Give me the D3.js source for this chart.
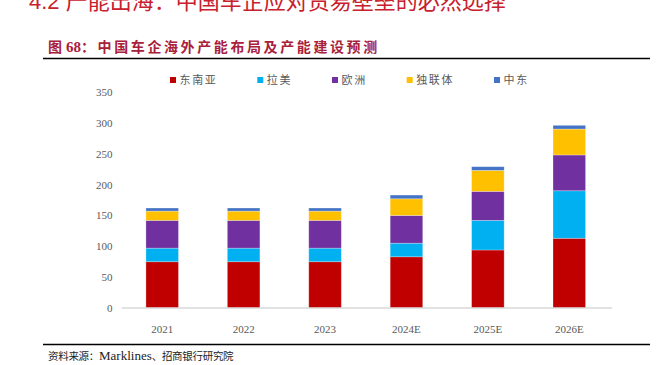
<!DOCTYPE html>
<html>
<head>
<meta charset="utf-8">
<script src="https://cdn.jsdelivr.net/npm/d3@7"></script>
<style>
  html, body { margin: 0; padding: 0; background: #fff; }
  svg { display: block; }
</style>
</head>
<body>
<div id="chart"></div>
<script>
// data
const years = ["2021", "2022", "2023", "2024E", "2025E", "2026E"];
const seAsia = [75, 75, 75, 83, 94, 113];
const latAm = [22, 22, 22, 22, 48, 77];
const europe = [45, 45, 45, 45, 47, 58];
const cis = [15, 15, 15, 27, 34, 42];
const midEast = [5, 5, 5, 6, 6, 6];
const seriesNames = ["东南亚", "拉美", "欧洲", "独联体", "中东"];
const seriesColors = ["#c00000", "#00b0f0", "#7030a0", "#ffc000", "#4472c4"];
const yTicks = [0, 50, 100, 150, 200, 250, 300, 350];

const width = 659;
const height = 365;
const plot = { left: 121.5, right: 610, top: 92, bottom: 308 };

const svg = d3.select("#chart").append("svg")
  .attr("width", width)
  .attr("height", height);

const serifCJK = "'Liberation Serif', 'Noto Sans CJK SC', serif";

// section heading, cut off at the top in the reference
svg.append("text")
  .attr("x", 29)
  .attr("y", 9)
  .attr("font-family", "'Liberation Sans', 'Noto Sans CJK SC', sans-serif")
  .attr("font-size", 22)
  .attr("fill", "#c8202c")
  .text("4.2 产能出海：中国车企应对贸易壁垒的必然选择");

// figure title + rule
const title = svg.append("text")
  .attr("x", 48)
  .attr("y", 52)
  .attr("font-family", serifCJK)
  .attr("font-size", 14)
  .attr("font-weight", "bold")
  .attr("fill", "#a8203a");
title.append("tspan").attr("letter-spacing", 4).text("图");
title.append("tspan").attr("font-size", 15).text("68");
title.append("tspan").attr("letter-spacing", 2.6).text("：中国车企海外产能布局及产能建设预测");

svg.append("line")
  .attr("x1", 43).attr("x2", 650)
  .attr("y1", 58.5).attr("y2", 58.5)
  .attr("stroke", "#000")
  .attr("stroke-width", 1.3);

// rows for the stack
const rows = years.map((year, i) => ({
  year,
  [seriesNames[0]]: seAsia[i],
  [seriesNames[1]]: latAm[i],
  [seriesNames[2]]: europe[i],
  [seriesNames[3]]: cis[i],
  [seriesNames[4]]: midEast[i],
}));

const stacked = d3.stack().keys(seriesNames)(rows);

const x = d3.scaleBand()
  .domain(years)
  .range([plot.left, plot.right])
  .paddingInner(0.6)
  .paddingOuter(0.3);

const y = d3.scaleLinear()
  .domain([0, 350])
  .range([plot.bottom, plot.top]);

const color = d3.scaleOrdinal().domain(seriesNames).range(seriesColors);

// y axis labels (no line, no ticks)
const yAxis = svg.append("g")
  .attr("transform", `translate(${plot.left - 3},0)`)
  .call(d3.axisLeft(y).tickValues(yTicks).tickSize(0).tickPadding(6));
yAxis.select(".domain").remove();
yAxis.selectAll("text")
  .attr("font-family", "'Liberation Serif', serif")
  .attr("font-size", 11)
  .attr("fill", "#595959");

// bars
svg.append("g")
  .selectAll("g")
  .data(stacked)
  .join("g")
  .attr("fill", (d) => color(d.key))
  .selectAll("rect")
  .data((d) => d)
  .join("rect")
  .attr("x", (d) => x(d.data.year))
  .attr("y", (d) => y(d[1]))
  .attr("width", x.bandwidth())
  .attr("height", (d) => y(d[0]) - y(d[1]))
  .attr("stroke", "#fff")
  .attr("stroke-opacity", 0.35)
  .attr("stroke-width", 0.8);

// x axis
const xAxis = svg.append("g")
  .attr("transform", `translate(0,${plot.bottom})`)
  .call(d3.axisBottom(x).tickSize(0).tickPadding(17));
xAxis.select(".domain")
  .attr("stroke", "#d9d9d9")
  .attr("stroke-width", 1.5)
  .attr("d", `M${plot.left},0H${plot.right + 2}`);
xAxis.selectAll("text")
  .attr("font-family", "'Liberation Serif', serif")
  .attr("font-size", 11)
  .attr("fill", "#595959");

// legend
const legend = svg.append("g").attr("transform", "translate(170,80)");
let lx = 0;
seriesNames.forEach((name, i) => {
  const item = legend.append("g").attr("transform", `translate(${lx},0)`);
  item.append("rect")
    .attr("x", 0).attr("y", -3)
    .attr("width", 6).attr("height", 6)
    .attr("fill", seriesColors[i]);
  const tw = name.length * 12.6;
  item.append("text")
    .attr("x", 9.5)
    .attr("y", 4)
    .attr("font-family", "'Noto Sans CJK SC', sans-serif")
    .attr("font-size", 11)
    .attr("fill", "#595959")
    .attr("textLength", tw - 1.5)
    .attr("lengthAdjust", "spacing")
    .text(name);
  lx += tw + 49.5;
});

// footer
svg.append("line")
  .attr("x1", 43).attr("x2", 650)
  .attr("y1", 344.5).attr("y2", 344.5)
  .attr("stroke", "#000")
  .attr("stroke-width", 1.3);

const source = svg.append("text")
  .attr("x", 48)
  .attr("y", 360)
  .attr("font-family", serifCJK)
  .attr("fill", "#222");
source.append("tspan").attr("font-size", 10.5).attr("letter-spacing", -0.3).text("资料来源：");
source.append("tspan").attr("font-size", 13).text("Marklines");
source.append("tspan").attr("font-size", 10.5).attr("letter-spacing", -0.3).text("、招商银行研究院");
</script>
</body>
</html>
